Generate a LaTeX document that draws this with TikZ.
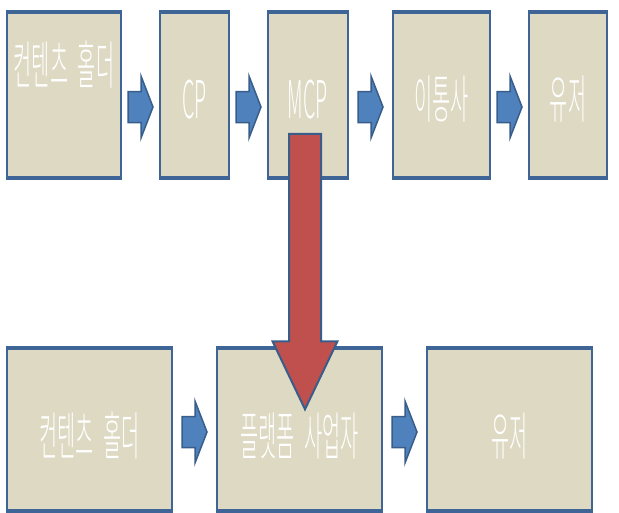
\documentclass[tikz,border=0pt]{standalone}
\usepackage{fontspec}
\newfontfamily\kfont[FakeStretch=0.38,WordSpace=2.2]{Noto Sans CJK KR Light}
\usetikzlibrary{calc}
\definecolor{boxfill}{HTML}{DDD9C3}
\definecolor{boxline}{HTML}{3F6596}
\definecolor{arrowblue}{HTML}{4F81BD}
\definecolor{arrowline}{HTML}{385D8A}
\definecolor{arrowred}{HTML}{C0504D}
\tikzset{
  stage/.style={draw=boxline,line width=1.5pt,fill=boxfill,inner sep=0pt,
    font=\kfont\fontsize{52}{56}\selectfont,text=white,align=center},
  toprow/.style={stage,minimum height=164pt,text height=50pt,text depth=4pt},
  lowrow/.style={stage,minimum width=165pt,minimum height=161pt,text height=56pt,text depth=4pt},
  flowarrow/.style={draw=arrowline,fill=arrowblue,line width=1.5pt,line join=miter},
  bigarrow/.style={draw=arrowline,fill=arrowred,line width=2pt,line join=miter},
}
% thick rims on top and bottom of a box
\newcommand{\rims}[1]{%
  \draw[boxline,line width=4pt] (#1.north west) -- (#1.north east);
  \draw[boxline,line width=4pt] (#1.south west) -- (#1.south east);}
% block arrow between two boxes, #3 = drop below the box centre
\newcommand{\flow}[3]{%
  \coordinate (m) at ($($(#1.east)!0.5!(#2.west)$)+(0,#3)$);
  \draw[flowarrow] ($(m)+(-12.5,-15.5)$) -- ($(m)+(0.5,-15.5)$) -- ($(m)+(0.5,-31)$)
    -- ($(m)+(12.5,0)$) -- ($(m)+(0.5,31)$) -- ($(m)+(0.5,15.5)$)
    -- ($(m)+(-12.5,15.5)$) -- cycle;}
\begin{document}
\begin{tikzpicture}[x=1pt,y=-1pt]
\useasboundingbox (0,0) rectangle (619,512);

% top chain
\node[stage,minimum width=114pt,minimum height=164pt] (T1) at (64,95) {컨텐츠 홀더\\[8pt]\mbox{}};
\node[toprow,minimum width=69pt] (T2) at (194.5,95) {CP};
\node[toprow,minimum width=80pt] (T3) at (308,95) {MCP};
\node[toprow,minimum width=97pt] (T4) at (441.5,95) {이통사};
\node[toprow,minimum width=78pt] (T5) at (568,95) {유저};

% bottom chain
\node[lowrow] (B1) at (89.5,429.5) {컨텐츠 홀더};
\node[lowrow] (B2) at (299.5,429.5) {플랫폼 사업자};
\node[lowrow] (B3) at (509.5,429.5) {유저};

\foreach \b in {T1,T2,T3,T4,T5,B1,B2,B3} {\rims{\b}}

\flow{T1}{T2}{12}
\flow{T2}{T3}{12}
\flow{T3}{T4}{12}
\flow{T4}{T5}{12}
\flow{B1}{B2}{2.5}
\flow{B2}{B3}{2.5}

% MCP moves down to the platform
\coordinate (redtop) at ($(T3.south)+(-3,-44)$);
\coordinate (redtip) at ($(B2.north)+(5.5,61)$);
\draw[bigarrow] ($(redtop)+(-16,0)$) -- ($(redtip)+(-16,-68)$) -- ($(redtip)+(-32.5,-68)$)
  -- (redtip) -- ($(redtip)+(32.5,-68)$) -- ($(redtip)+(16,-68)$) -- ($(redtop)+(16,0)$) -- cycle;
\end{tikzpicture}
\end{document}
